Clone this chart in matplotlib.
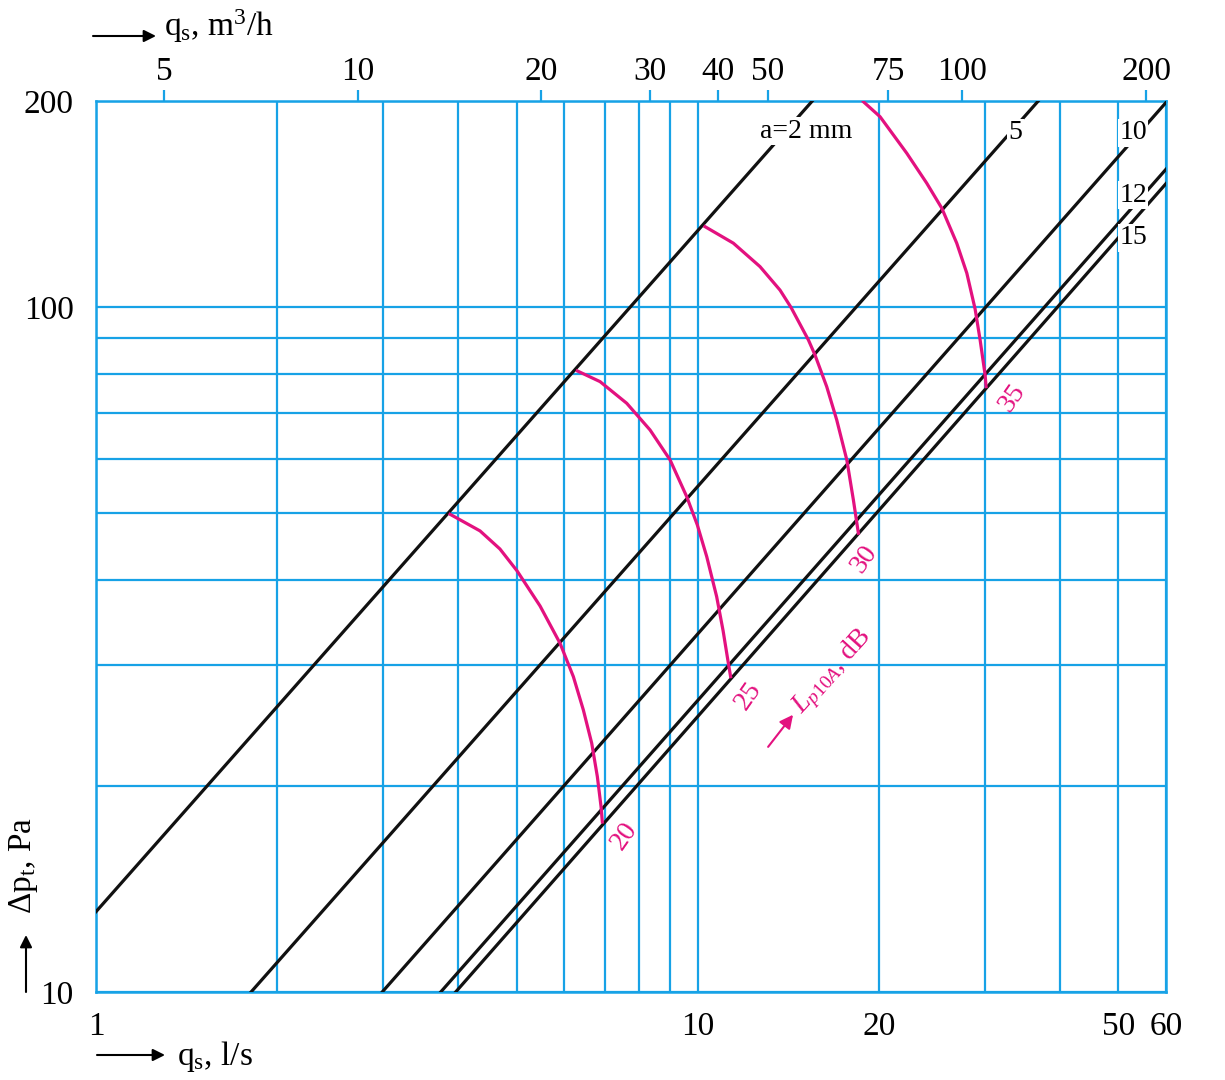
import matplotlib.pyplot as plt
from matplotlib.ticker import NullFormatter

plt.rcParams['font.family'] = ['Liberation Serif', 'DejaVu Serif']
plt.rcParams['mathtext.fontset'] = 'custom'
plt.rcParams['mathtext.rm'] = 'Liberation Serif'
plt.rcParams['mathtext.it'] = 'Liberation Serif:italic'

BLUE = '#17a2e6'
PINK = '#e3117f'

# axis ticks
x_major = [1, 10, 20, 50, 60]
x_minor = [2, 3, 4, 5, 6, 7, 8, 9, 30, 40]
y_major = [10, 100, 200]
y_minor = [20, 30, 40, 50, 60, 70, 80, 90]
# top scale m3/h, positions in l/s
top_labels = ['5', '10', '20', '30', '40', '50', '75', '100', '200']
top_pos = [1.297, 2.725, 5.49, 8.33, 10.80, 13.09, 20.72, 27.5, 55.6]

# slot width lines a (mm): two points each, q in l/s, dp in Pa
a_names = ['a=2 mm', '5', '10', '12', '15']
a_q = [[1.0, 15.5], [1.81, 36.8], [2.99, 60.0], [3.74, 60.0], [3.96, 60.0]]
a_dp = [[13.1, 200], [10, 200], [10, 199], [10, 159], [10, 151.5]]
a_lab_q = [15.14, 33.7, 52.9, 52.9, 52.9]
a_lab_dp = [180.8, 179.6, 179.6, 145.8, 126.2]

# sound level curves Lp10A, dB
lp_names = ['20', '25', '30', '35']
lp_q = [
    [3.876, 4.347, 4.691, 5.009, 5.469, 5.904, 6.213, 6.455, 6.665, 6.810,
     6.907, 6.941],
    [6.308, 6.881, 7.621, 8.332, 8.995, 9.587, 9.984, 10.35, 10.75, 11.02,
     11.22, 11.34],
    [10.28, 11.46, 12.69, 13.70, 14.29, 15.27, 15.66, 16.38, 17.02, 17.69,
     18.14, 18.49],
    [18.85, 20.09, 22.25, 24.02, 25.44, 26.94, 28.00, 28.90, 29.46, 30.03,
     30.14],
]
lp_dp = [
    [49.84, 47.13, 44.35, 41.20, 36.62, 32.30, 28.87, 25.81, 23.08, 20.63,
     18.65, 17.71],
    [80.70, 77.85, 72.38, 66.17, 59.84, 52.88, 48.08, 43.22, 37.79, 33.67,
     30.53, 28.87],
    [131.1, 124.0, 114.6, 105.9, 99.90, 89.58, 85.17, 76.55, 68.44, 59.83,
     52.30, 46.76],
    [199.5, 189.7, 167.8, 151.7, 139.5, 124.0, 112.1, 99.40, 89.58, 79.62,
     76.55],
]
lp_lab_q = [7.54, 12.13, 18.90, 33.3]
lp_lab_dp = [16.9, 27.1, 42.9, 73.7]

W, H = 1225, 1080
fig = plt.figure(figsize=(W / 100, H / 100), dpi=100)
ax = fig.add_axes([96 / W, 1 - 992 / H, 1070 / W, 891 / H])
ax.set_xscale('log')
ax.set_yscale('log')
ax.set_xlim(1, 60)
ax.set_ylim(10, 200)

ax.set_xticks(x_major, [str(v) for v in x_major])
ax.set_xticks(x_minor, minor=True)
ax.set_yticks(y_major, [str(v) for v in y_major])
ax.set_yticks(y_minor, minor=True)
ax.xaxis.set_minor_formatter(NullFormatter())
ax.yaxis.set_minor_formatter(NullFormatter())
ax.tick_params(which='both', length=0, labelsize=24)
ax.tick_params(axis='x', pad=14)
ax.tick_params(axis='y', pad=16)
ax.grid(which='both', color=BLUE, lw=1.6, zorder=0)
ax.set_axisbelow(True)
for sp in ax.spines.values():
    sp.set_color(BLUE)
    sp.set_linewidth(1.8)

top = ax.twiny()
top.set_xscale('log')
top.set_xlim(ax.get_xlim())
top.set_xticks(top_pos, top_labels)
top.xaxis.set_minor_locator(plt.NullLocator())
top.tick_params(axis='x', direction='out', length=8, width=1.6, color=BLUE,
                labelsize=24, pad=2)
for sp in top.spines.values():
    sp.set_visible(False)

for qs, ps in zip(a_q, a_dp):
    ax.plot(qs, ps, color='#111111', lw=2.3, zorder=3)
for name, lq, lp in zip(a_names, a_lab_q, a_lab_dp):
    ax.text(lq, lp, name, fontsize=20, ha='center', va='center', zorder=5,
            bbox=dict(facecolor='white', edgecolor='none', pad=1))

for qs, ps in zip(lp_q, lp_dp):
    ax.plot(qs, ps, color=PINK, lw=2.3, zorder=4, solid_joinstyle='round')
for name, lq, lp in zip(lp_names, lp_lab_q, lp_lab_dp):
    ax.text(lq, lp, name, fontsize=20, color=PINK, ha='center', va='center',
            rotation=55, rotation_mode='anchor', zorder=5)

ax.text(16.72, 29.3, r'$\mathit{L}_{\mathit{p10A}}$, dB', fontsize=20, color=PINK,
        ha='center', va='center', rotation=48, rotation_mode='anchor', zorder=5)
ax.annotate('', xy=(14.4, 25.4), xytext=(13.09, 22.8),
            arrowprops=dict(arrowstyle='-|>', color=PINK, lw=1.5,
                            mutation_scale=20, shrinkA=0, shrinkB=0))

# axis titles with arrows
arrow = dict(arrowstyle='-|>', color='black', lw=1.5, mutation_scale=18,
             shrinkA=0, shrinkB=0)
fig.text(164 / W, 1 - 36 / H, r'q$_\mathrm{s}$, m$^3$/h', fontsize=24,
         ha='left', va='baseline')
ax.annotate('', xy=(156 / W, 1 - 36 / H), xytext=(93 / W, 1 - 36 / H),
            xycoords='figure fraction', textcoords='figure fraction',
            arrowprops=arrow)
fig.text(177 / W, 1 - 1065 / H, r'q$_\mathrm{s}$, l/s', fontsize=24,
         ha='left', va='baseline')
ax.annotate('', xy=(165 / W, 1 - 1055 / H), xytext=(97 / W, 1 - 1055 / H),
            xycoords='figure fraction', textcoords='figure fraction',
            arrowprops=arrow)
fig.text(24 / W, 1 - 865 / H, r'$\Delta$p$_\mathrm{t}$, Pa', fontsize=24,
         rotation=90, ha='center', va='center')
ax.annotate('', xy=(26 / W, 1 - 935 / H), xytext=(26 / W, 1 - 992 / H),
            xycoords='figure fraction', textcoords='figure fraction',
            arrowprops=arrow)

fig.savefig('out.png', dpi=100)
